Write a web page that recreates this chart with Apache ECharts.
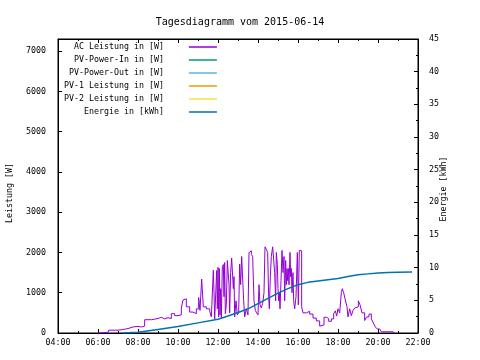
<!DOCTYPE html>
<html>
<head>
<meta charset="utf-8">
<script src="https://cdn.jsdelivr.net/npm/echarts@6/dist/echarts.min.js"></script>
<style>html,body{margin:0;padding:0;background:#fff}#c{width:480px;height:360px}</style>
</head>
<body>
<div id="c"></div>
<script>
var titleText = 'Tagesdiagramm vom 2015-06-14';
var seriesNames = ['AC Leistung in [W]', 'PV-Power-In in [W]', 'PV-Power-Out in [W]', 'PV-1 Leistung in [W]', 'PV-2 Leistung in [W]', 'Energie in [kWh]'];
var seriesColors = ['#9400d3', '#009e73', '#56b4e9', '#e69f00', '#f0e442', '#0072b2'];

var acTimes = ['06:00','06:05','06:30','06:32','07:00','07:10','07:30','07:45','08:00','08:10','08:20','08:40','09:00','09:10','09:20','09:30','09:40','09:50','10:00','10:10','10:15','10:20','10:25','10:35','10:45','10:55','11:02','11:06','11:11','11:16','11:25','11:35',
'11:40','11:44','11:46','11:48','11:50','11:53','11:56','11:58','12:00','12:02','12:04','12:06','12:08','12:10','12:13','12:16','12:18','12:20','12:22','12:25','12:28','12:31','12:33','12:35','12:38','12:41','12:44','12:46','12:48','12:50','12:54','12:58',
'13:02','13:05','13:08','13:11','13:14','13:17','13:20','13:25','13:30','13:33','13:36','13:40','13:44','13:48','13:52','13:56','14:00','14:03','14:06','14:10','14:14','14:18','14:21','14:25','14:29','14:32','14:34','14:37','14:40','14:44','14:47','14:50','14:53','14:55','14:58',
'15:00','15:02','15:04','15:06','15:09','15:12','15:15','15:18','15:20','15:23','15:25','15:27','15:29','15:31','15:33','15:36','15:38','15:40','15:42','15:45','15:47','15:50','15:54','15:58','16:01','16:04','16:08','16:11',
'16:15','16:25','16:35','16:45','16:55','17:05','17:10','17:18','17:25','17:32','17:40','17:47','17:52','17:56','18:00','18:05','18:10','18:13','18:17','18:22','18:27','18:30','18:35','18:40','18:45','18:50','18:55','19:01','19:06','19:12','19:20','19:26','19:33','19:40','19:46','19:52','19:58','20:05','20:10','20:45','20:50'];
var acPower = [0,15,15,70,80,110,150,165,150,170,330,360,390,350,380,360,480,430,450,620,820,850,650,520,480,600,880,560,1340,650,600,540,
400,380,1560,1000,340,300,1550,600,1630,400,1600,450,1100,380,1650,1700,900,1750,480,700,1800,1835,1200,500,1500,1860,1875,1100,1400,400,800,450,
500,1710,1200,1900,1920,800,400,600,450,2000,2040,1950,1900,800,560,500,450,1200,700,620,740,1000,2140,2080,2000,900,600,1400,1900,2140,2130,1500,800,2000,1700,
1100,800,1000,600,1300,2050,1500,1900,800,1800,1200,1600,1300,1600,1200,2000,1400,1600,1000,1500,800,600,900,2000,700,2050,2040,650,
500,540,470,370,300,170,200,390,360,290,350,480,550,420,600,500,1000,1100,1000,820,650,400,600,430,560,620,650,800,700,500,310,400,470,350,250,150,100,60,30,30,0];

var energyTimes = ['07:15','08:00','09:00','10:00','11:00','12:00','12:30','13:00','13:30','14:00','14:30','15:00','15:30','16:00','16:30','17:00','17:30','18:00','18:30','19:00','19:30','20:00','20:30','21:00','21:42'];
var energyKWh = [0.0,0.1,0.55,1.0,1.55,2.1,2.6,3.15,3.7,4.5,5.3,6.1,6.8,7.4,7.75,7.95,8.15,8.35,8.65,8.9,9.05,9.2,9.27,9.3,9.32];

var pvInPower = [];
var pvOutPower = [];
var pv1Power = [];
var pv2Power = [];

function toHours(t) { var p = t.split(':'); return +p[0] + (+p[1]) / 60; }
function pairs(times, vals) { return times.map(function (t, i) { return [toHours(t), vals[i]]; }); }
function hourLabel(v) { var h = Math.round(v); return (h < 10 ? '0' : '') + h + ':00'; }
function plain(v) { return String(v); }

var FONT = 'DejaVu Sans Mono';
var tickFont = { fontFamily: FONT, fontSize: 8.3, color: '#000' };

var chart = echarts.init(document.getElementById('c'), null, { renderer: 'canvas' });
function mkSeries(i, data, yIdx, width, step) {
  return {
    name: seriesNames[i], type: 'line', data: data, yAxisIndex: yIdx || 0,
    symbol: 'none', step: step || false, animation: false,
    lineStyle: { color: seriesColors[i], width: width || 1 },
    itemStyle: { color: seriesColors[i] }
  };
}
var option = {
  backgroundColor: '#fff',
  animation: false,
  title: { text: titleText, left: 'center', top: 12, textStyle: { fontFamily: FONT, fontSize: 10, fontWeight: 'normal', color: '#000' } },
  legend: {
    orient: 'vertical', align: 'right', left: 64, top: 42, padding: 0,
    icon: 'rect', itemWidth: 28, itemHeight: 1.5, itemGap: 3,
    formatter: function (n) { return n.padStart(20, ' ') + '    '; },
    textStyle: { fontFamily: FONT, fontSize: 8.3, color: '#000', lineHeight: 10 },
    data: seriesNames
  },
  grid: { left: 58, right: 62, top: 39, bottom: 27, show: true, borderColor: '#000', borderWidth: 1, backgroundColor: 'transparent' },
  graphic: [
    { type: 'text', x: 10, y: 193, rotation: Math.PI / 2, style: { text: 'Leistung [W]', fontFamily: FONT, fontSize: 8.3, fill: '#000', align: 'center', verticalAlign: 'middle' } },
    { type: 'text', x: 444, y: 189, rotation: Math.PI / 2, style: { text: 'Energie [kWh]', fontFamily: FONT, fontSize: 8.3, fill: '#000', align: 'center', verticalAlign: 'middle' } }
  ],
  xAxis: [
    { type: 'value', min: 4, max: 22, interval: 2, position: 'bottom',
      axisLine: { show: true, onZero: false, lineStyle: { color: '#000', width: 1 } },
      axisTick: { show: true, inside: true, length: 4, lineStyle: { color: '#000' } },
      minorTick: { show: true, splitNumber: 2, length: 2, lineStyle: { color: '#000' } },
      splitLine: { show: false },
      axisLabel: Object.assign({ margin: 6, formatter: hourLabel }, tickFont) },
    { type: 'value', min: 4, max: 22, interval: 2, position: 'top',
      axisLine: { show: true, onZero: false, lineStyle: { color: '#000', width: 1 } },
      axisTick: { show: true, inside: true, length: 4, lineStyle: { color: '#000' } },
      minorTick: { show: true, splitNumber: 2, length: 2, lineStyle: { color: '#000' } },
      splitLine: { show: false }, axisLabel: { show: false } }
  ],
  yAxis: [
    { type: 'value', min: 0, max: 7300, interval: 1000, position: 'left',
      axisLine: { show: true, onZero: false, lineStyle: { color: '#000', width: 1 } },
      axisTick: { show: true, inside: true, length: 4, lineStyle: { color: '#000' } },
      splitLine: { show: false },
      axisLabel: Object.assign({ margin: 12, showMaxLabel: false, formatter: plain }, tickFont) },
    { type: 'value', min: 0, max: 45, interval: 5, position: 'right',
      axisLine: { show: true, onZero: false, lineStyle: { color: '#000', width: 1 } },
      axisTick: { show: true, inside: true, length: 4, lineStyle: { color: '#000' } },
      minorTick: { show: true, splitNumber: 2, length: 2, lineStyle: { color: '#000' } },
      splitLine: { show: false },
      axisLabel: Object.assign({ margin: 11, formatter: plain }, tickFont) }
  ],
  series: [
    mkSeries(0, pairs(acTimes, acPower), 0, 1, 'end'),
    mkSeries(1, pvInPower, 0, 1),
    mkSeries(2, pvOutPower, 0, 1),
    mkSeries(3, pv1Power, 0, 1),
    mkSeries(4, pv2Power, 0, 1),
    mkSeries(5, pairs(energyTimes, energyKWh), 1, 1.5)
  ]
};
chart.setOption(option);
</script>
</body>
</html>
